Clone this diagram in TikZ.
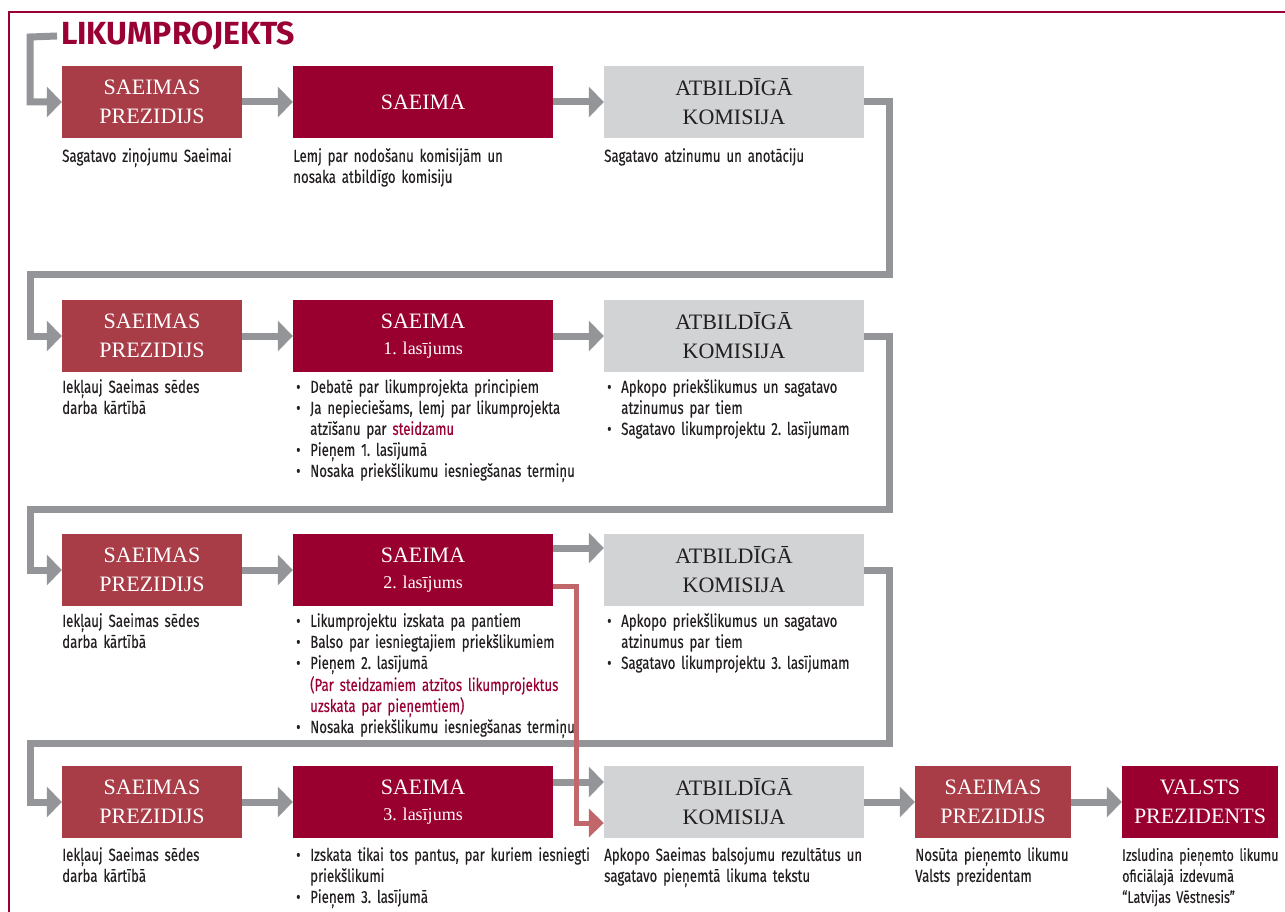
\documentclass[tikz,border=0pt]{standalone}
\usepackage{fontspec}
\setmainfont{Liberation Serif}
\newfontfamily\descfont[FakeStretch=0.76,WordSpace=0.85,FakeBold=0.25]{Fira Sans}
\newfontfamily\titlefont{Fira Sans}
\usetikzlibrary{arrows.meta}
\definecolor{crim}{HTML}{990033}
\definecolor{prez}{HTML}{A83C47}
\definecolor{saeima}{HTML}{990030}
\definecolor{kom}{HTML}{D1D3D4}
\definecolor{agray}{HTML}{939598}
\definecolor{redline}{HTML}{C1666B}
\definecolor{txt}{HTML}{231F20}
\newcommand\bul[1]{\noindent\hangindent=16pt\hangafter=1\makebox[16pt][l]{\hspace{2pt}•}\strut#1\par}
\begin{document}
\begin{tikzpicture}[x=1pt,y=-1pt,
  box/.style={minimum height=72pt, inner sep=0pt, align=center, font=\fontsize{22}{29}\selectfont},
  prezbox/.style={box, fill=prez, text=white, minimum width=180pt},
  saebox/.style={box, fill=saeima, text=white, minimum width=260pt},
  kombox/.style={box, fill=kom, text=txt, minimum width=260pt},
  desc/.style={anchor=north west, inner sep=0pt, text=txt, font=\descfont\fontsize{17.5}{21}\selectfont\frenchspacing, align=left, text width=330pt},
  garrow/.style={draw=agray, line width=7pt, -{Triangle[length=15pt,width=30pt]}, agray},
  rarrow/.style={draw=redline, line width=5pt, -{Triangle[length=15pt,width=28pt]}, redline}]
\useasboundingbox (0,0) rectangle (1285,912);
\fill[white] (0,0) rectangle (1285,912);
\draw[crim, line width=1.3pt] (1285,12) -- (9,12) -- (9,912);

\node[anchor=west, inner sep=0pt, text=crim, font=\titlefont\bfseries\fontsize{32}{32}\selectfont] (title) at (61,36) {LIKUMPROJEKTS};

% row 1
\node[prezbox] (p1) at (152,102) {SAEIMAS\\PREZIDIJS};
\node[saebox] (s1) at (423,102) {SAEIMA};
\node[kombox] (k1) at (734,102) {ATBILDĪGĀ\\KOMISIJA};
% row 2
\node[prezbox] (p2) at (152,336) {SAEIMAS\\PREZIDIJS};
\node[saebox] (s2) at (423,336) {SAEIMA\\[-3pt]{\fontsize{18}{20}\selectfont 1. lasījums}};
\node[kombox] (k2) at (734,336) {ATBILDĪGĀ\\KOMISIJA};
% row 3
\node[prezbox] (p3) at (152,570) {SAEIMAS\\PREZIDIJS};
\node[saebox] (s3) at (423,570) {SAEIMA\\[-3pt]{\fontsize{18}{20}\selectfont 2. lasījums}};
\node[kombox] (k3) at (734,570) {ATBILDĪGĀ\\KOMISIJA};
% row 4
\node[prezbox] (p4) at (152,802) {SAEIMAS\\PREZIDIJS};
\node[saebox] (s4) at (423,802) {SAEIMA\\[-3pt]{\fontsize{18}{20}\selectfont 3. lasījums}};
\node[kombox] (k4) at (734,802) {ATBILDĪGĀ\\KOMISIJA};
\node[prezbox, minimum width=156pt] (sp) at (993,802) {SAEIMAS\\PREZIDIJS};
\node[saebox, minimum width=156pt] (vp) at (1200,802) {VALSTS\\PREZIDENTS};

% descriptions
\node[desc] (d1) at (62,147) {\strut Sagatavo ziņojumu Saeimai};
\node[desc] (d2) at (293,147) {\strut Lemj par nodošanu komisijām un\\nosaka atbildīgo komisiju};
\node[desc] (d3) at (604,147) {\strut Sagatavo atzinumu un anotāciju};

\node[desc] (d4) at (62,378) {\strut Iekļauj Saeimas sēdes\\darba kārtībā};
\node[desc] (d5) at (294,378) {\bul{Debatē par likumprojekta principiem}\bul{Ja nepieciešams, lemj par likumprojekta\newline atzīšanu par \textcolor{crim}{steidzamu}}\bul{Pieņem 1. lasījumā}\bul{Nosaka priekšlikumu iesniegšanas termiņu}};
\node[desc] (d6) at (605,378) {\bul{Apkopo priekšlikumus un sagatavo\newline atzinumus par tiem}\bul{Sagatavo likumprojektu 2. lasījumam}};

\node[desc] (d7) at (62,612) {\strut Iekļauj Saeimas sēdes\\darba kārtībā};
\node[desc] (d8) at (294,612) {\bul{Likumprojektu izskata pa pantiem}\bul{Balso par iesniegtajiem priekšlikumiem}\bul{Pieņem 2. lasījumā\newline \textcolor{crim}{(Par steidzamiem atzītos likumprojektus}\newline \textcolor{crim}{uzskata par pieņemtiem)}}\bul{Nosaka priekšlikumu iesniegšanas termiņu}};
\node[desc] (d9) at (605,612) {\bul{Apkopo priekšlikumus un sagatavo\newline atzinumus par tiem}\bul{Sagatavo likumprojektu 3. lasījumam}};

\node[desc] (d10) at (62,846) {\strut Iekļauj Saeimas sēdes\\darba kārtībā};
\node[desc] (d11) at (294,846) {\bul{Izskata tikai tos pantus, par kuriem iesniegti\newline priekšlikumi}\bul{Pieņem 3. lasījumā}};
\node[desc] (d12) at (604,846) {\strut Apkopo Saeimas balsojumu rezultātus un\\sagatavo pieņemtā likuma tekstu};
\node[desc] (d13) at (915,846) {\strut Nosūta pieņemto likumu\\Valsts prezidentam};
\node[desc, font=\descfont\fontsize{16.6}{21}\selectfont] (d14) at (1122,846) {\strut Izsludina pieņemto likumu\\oficiālajā izdevumā\\“Latvijas Vēstnesis”};

% connectors
\coordinate (t0) at (30,37);
\draw[garrow] ([xshift=-4pt]title.west) -- (t0) |- (p1.west);
\draw[garrow] (p1.east) -- (s1.west);
\draw[garrow] (s1.east) -- (k1.west);
\coordinate (l1r) at (889,274);
\coordinate (l1l) at (30,274);
\draw[garrow] (k1.east) -| (l1r) -- (l1l) |- (p2.west);
\draw[garrow] (p2.east) -- (s2.west);
\draw[garrow] (s2.east) -- (k2.west);
\coordinate (l2r) at (889,509);
\coordinate (l2l) at (30,509);
\draw[garrow] (k2.east) -| (l2r) -- (l2l) |- (p3.west);
\draw[garrow] (p3.east) -- (s3.west);
\draw[garrow] ([yshift=22pt]s3.east) -- ([yshift=22pt]k3.west);
\coordinate (l3r) at (889,743);
\coordinate (l3l) at (30,743);
\draw[garrow] (k3.east) -| (l3r) -- (l3l) |- (p4.west);
\draw[garrow] (p4.east) -- (s4.west);
\draw[garrow] ([yshift=20pt]s4.east) -- ([yshift=20pt]k4.west);
\draw[garrow] (k4.east) -- (sp.west);
\draw[garrow] (sp.east) -- (vp.west);
\coordinate (rc) at (576,823);
\draw[rarrow] ([yshift=-16pt]s3.east) -| (rc) -- ([yshift=-21pt]k4.west);
\end{tikzpicture}
\end{document}
